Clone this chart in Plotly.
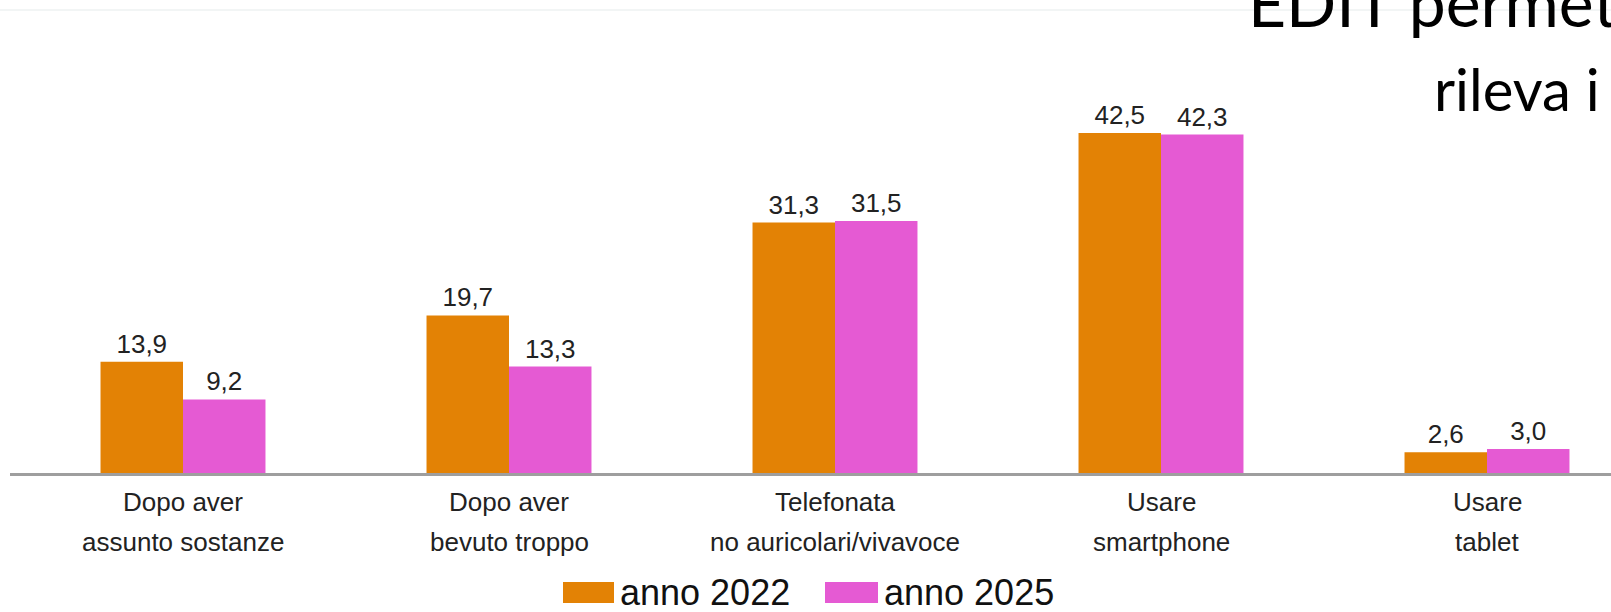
import plotly.graph_objects as go

# ---- data ----
categories = [
    "Dopo aver<br>assunto sostanze",
    "Dopo aver<br>bevuto troppo",
    "Telefonata<br>no auricolari/vivavoce",
    "Usare<br>smartphone",
    "Usare<br>tablet",
]
series_names = ["anno 2022", "anno 2025"]
values_2022 = [13.9, 19.7, 31.3, 42.5, 2.6]
values_2025 = [9.2, 13.3, 31.5, 42.3, 3.0]
colors = ["#E38205", "#E55AD3"]
header_lines = ["EDIT permet", "rileva i"]

# ---- layout geometry (pixels) ----
W, H = 1611, 612
ML, MR, MT, MB = 10, 0, 40, 139
PW = W - ML - MR
PH = H - MT - MB
Y_MAX = PH / 8.0


def px2x(px):
    return (px - ML) / PW


def py2y(py):
    return (H - MB - py) / PH


def fmt(v):
    return f"{v:.1f}".replace(".", ",")


fig = go.Figure()
for name, vals, col in zip(series_names, [values_2022, values_2025], colors):
    fig.add_trace(go.Bar(
        x=list(range(len(categories))),
        y=vals,
        name=name,
        marker=dict(color=col, line=dict(width=0)),
        text=[fmt(v) for v in vals],
        textposition="outside",
        textfont=dict(family="Liberation Sans, Arial", size=26, color="#222222"),
        cliponaxis=False,
        showlegend=False,
    ))

annotations = []
# category labels (two lines each)
for i, lab in enumerate(categories):
    parts = lab.split("<br>")
    for j, part in enumerate(parts):
        annotations.append(dict(
            x=i, xref="x", y=py2y(502 + 40 * j), yref="paper",
            text=part, showarrow=False, xanchor="center", yanchor="middle",
            font=dict(family="Liberation Sans, Arial", size=26, color="#222222"),
        ))

# custom legend
legend_pos = [(563, 614, 619), (825, 878, 883)]
shapes = []
for (sx0, sx1, tx), name, col in zip(legend_pos, series_names, colors):
    shapes.append(dict(type="rect", xref="paper", yref="paper",
                       x0=px2x(sx0), x1=px2x(sx1), y0=py2y(603), y1=py2y(582),
                       fillcolor=col, line=dict(width=0)))
    annotations.append(dict(
        x=px2x(tx), xref="paper", y=py2y(592), yref="paper",
        text=name, showarrow=False, xanchor="left", yanchor="middle",
        borderpad=0,
        font=dict(family="Liberation Sans, Arial", size=36, color="#111111"),
    ))

# faint top line
shapes.append(dict(type="line", xref="paper", yref="paper",
                   x0=px2x(0), x1=px2x(W), y0=py2y(10), y1=py2y(10),
                   line=dict(color="#F2F5F5", width=2)))

# header text (cropped slide title)
annotations.append(dict(
    x=px2x(1246), xref="paper", y=py2y(1), yref="paper",
    text=header_lines[0], showarrow=False, xanchor="left", yanchor="middle",
    font=dict(family="Lato", size=66, color="#000000"),
))
annotations.append(dict(
    x=px2x(1432), xref="paper", y=py2y(88), yref="paper",
    text=header_lines[1], showarrow=False, xanchor="left", yanchor="middle",
    font=dict(family="Lato", size=58, color="#000000"),
))

fig.update_layout(
    width=W, height=H,
    margin=dict(l=ML, r=MR, t=MT, b=MB, pad=0),
    paper_bgcolor="white", plot_bgcolor="white",
    barmode="group", bargap=0.494, bargroupgap=0,
    xaxis=dict(range=[-(183 - ML) / 326, (W - 183) / 326],
               showticklabels=False, showgrid=False, zeroline=False,
               showline=True, linecolor="#9E9E9E", linewidth=3, ticks=""),
    yaxis=dict(range=[0, Y_MAX], visible=False, showgrid=False, zeroline=False),
    shapes=shapes, annotations=annotations,
    showlegend=False,
)

fig.write_html(
    "out.html",
    config={"displayModeBar": False},
    post_script="document.body.style.margin='0';document.body.style.overflow='hidden';",
)
